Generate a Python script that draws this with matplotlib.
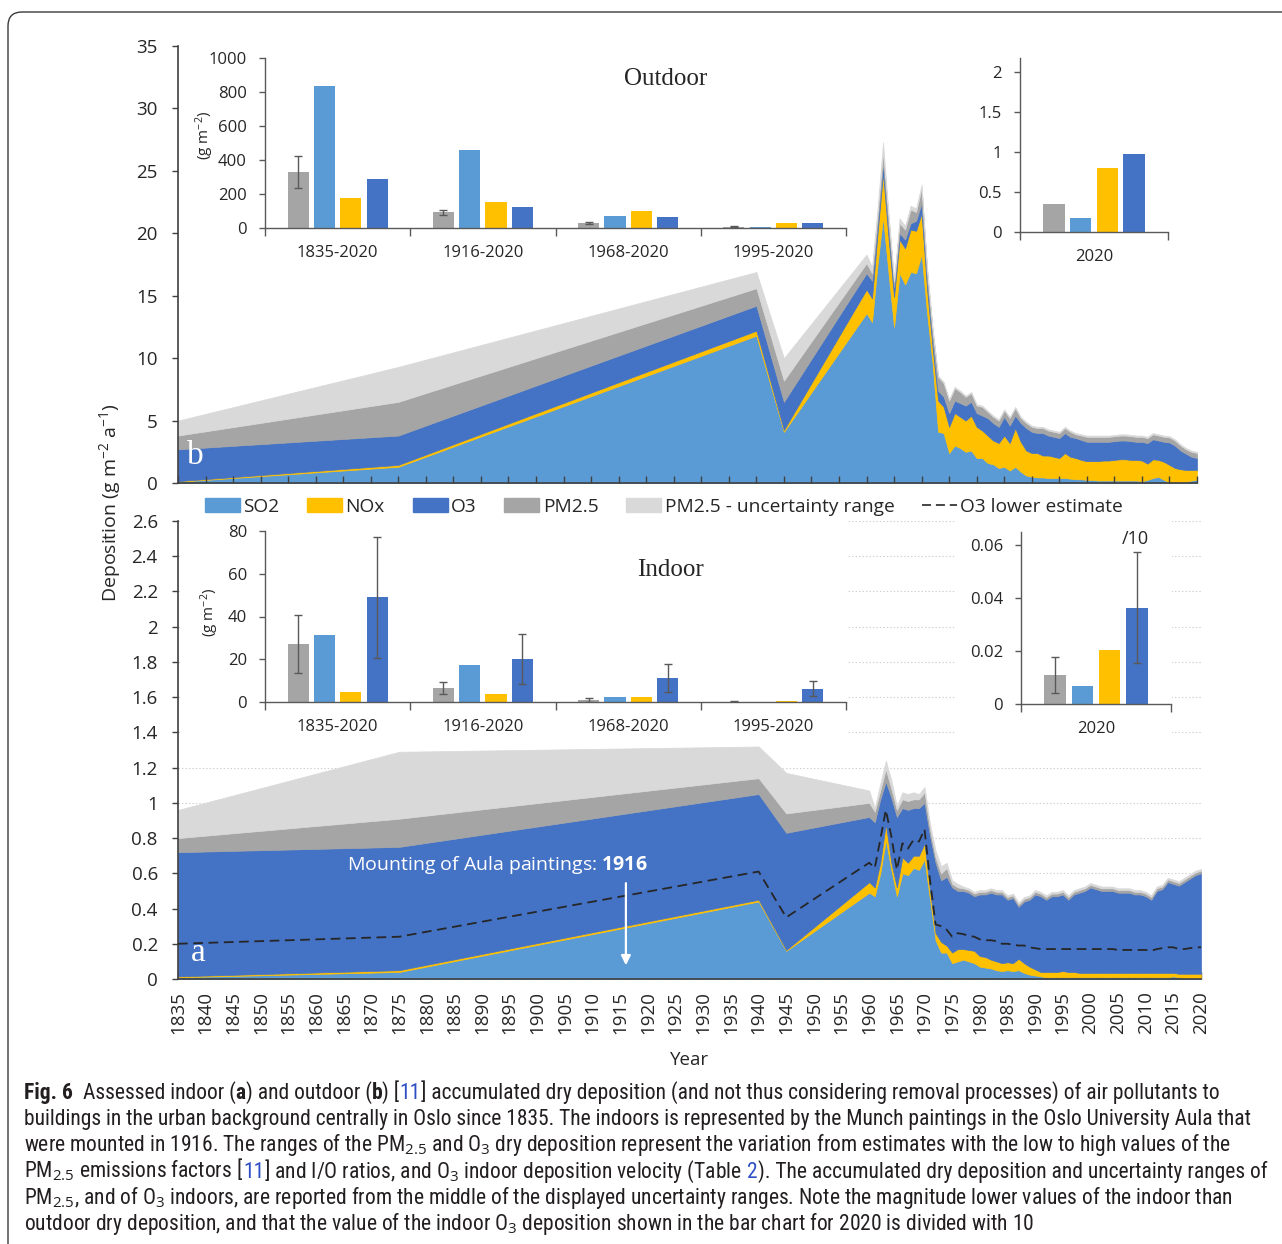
import numpy as np
import matplotlib
matplotlib.use("Agg")
import matplotlib.pyplot as plt
from matplotlib import font_manager
from matplotlib.patches import Patch, Rectangle, FancyBboxPatch
from matplotlib.lines import Line2D
from matplotlib.transforms import IdentityTransform
from matplotlib.ticker import MultipleLocator, FuncFormatter

# ---------------------------------------------------------------- data
years = [1835, 1875, 1940, 1945] + list(range(1960, 2021))

# outdoor accumulated dry deposition per pollutant (g m-2 a-1), stacked
out_so2 = [0.1, 1.3, 11.8, 4.1,
           13.6, 12.9, 17.5, 21.3, 16.8, 12.5, 16.8, 15.9, 16.9, 16.8,
           18.3, 13.6, 9.6, 4.1, 4.0, 2.4, 3.0, 2.8, 2.5, 2.6,
           2.0, 2.0, 1.6, 1.5, 1.2, 1.3, 1.0, 1.3, 0.9, 0.6,
           0.5, 0.45, 0.45, 0.4, 0.4, 0.4, 0.4, 0.35, 0.3, 0.3,
           0.25, 0.25, 0.2, 0.2, 0.2, 0.2, 0.2, 0.2, 0.2, 0.2,
           0.15, 0.25, 0.4, 0.5, 0.25, 0.05, 0.05, 0.1, 0.1, 0.2,
           0.25]
out_nox = [0.05, 0.15, 0.4, 0.15,
           1.9, 1.9, 2.5, 3.5, 2.8, 2.4, 2.7, 2.9, 3.4, 3.4,
           3.3, 1.9, 1.2, 2.5, 2.1, 2.1, 2.6, 2.5, 2.5, 2.8,
           2.5, 2.2, 2.2, 1.9, 2.0, 2.5, 2.2, 3.1, 2.4, 2.0,
           1.9, 1.95, 1.75, 1.8, 1.7, 1.6, 2.0, 1.75, 1.7, 1.55,
           1.5, 1.5, 1.55, 1.6, 1.6, 1.65, 1.7, 1.7, 1.65, 1.65,
           1.65, 1.3, 1.5, 1.35, 1.45, 1.4, 1.15, 1.0, 0.95, 0.85,
           0.8]
out_o3 = [2.55, 2.35, 2.0, 2.25,
          1.3, 1.4, 0.8, 0.8, 0.8, 0.8, 0.5, 0.7, 0.5, 0.8,
          0.8, 0.7, 0.7, 0.8, 0.8, 1.1, 1.0, 1.1, 1.2, 1.1,
          1.1, 1.2, 1.4, 1.4, 1.3, 1.5, 1.4, 1.0, 1.5, 1.8,
          1.7, 1.6, 1.8, 1.6, 1.6, 1.6, 1.6, 1.6, 1.6, 1.6,
          1.55, 1.55, 1.55, 1.5, 1.5, 1.5, 1.5, 1.5, 1.5, 1.45,
          1.5, 1.65, 1.6, 1.55, 1.6, 1.8, 1.8, 1.5, 1.3, 1.05,
          0.95]
out_pm = [1.1, 2.7, 1.4, 1.7,
          0.8, 0.6, 0.7, 0.9, 0.8, 0.4, 0.8, 0.8, 1.1, 0.7,
          1.2, 0.8, 0.7, 1.1, 1.1, 1.0, 1.0, 0.9, 0.7, 0.7,
          0.6, 0.7, 0.5, 0.5, 0.5, 0.5, 0.6, 0.6, 0.4, 0.4,
          0.4, 0.4, 0.4, 0.4, 0.4, 0.4, 0.4, 0.4, 0.3, 0.35,
          0.4, 0.4, 0.4, 0.4, 0.4, 0.4, 0.4, 0.4, 0.4, 0.4,
          0.4, 0.4, 0.4, 0.4, 0.4, 0.4, 0.4, 0.4, 0.35, 0.4,
          0.4]
out_pm_unc = [1.2, 2.8, 1.3, 1.8,
              0.7, 0.5, 0.5, 0.8, 0.4, 0.2, 0.4, 0.3, 0.3, 0.3,
              0.3, 0.3, 0.2, 0.1, 0.1, 0.1, 0.1, 0.1, 0.1, 0.1,
              0.1, 0.1, 0.1, 0.1, 0.1, 0.1, 0.1, 0.1, 0.1, 0.1,
              0.1, 0.1, 0.1, 0.1, 0.1, 0.1, 0.1, 0.1, 0.1, 0.1,
              0.1, 0.1, 0.1, 0.1, 0.1, 0.1, 0.1, 0.1, 0.1, 0.1,
              0.1, 0.1, 0.1, 0.1, 0.1, 0.1, 0.1, 0.1, 0.1, 0.1,
              0.1]

# indoor (Aula) accumulated dry deposition, stacked
in_so2 = [0.01, 0.04, 0.44, 0.16,
          0.49, 0.47, 0.60, 0.79, 0.62, 0.47, 0.60, 0.59, 0.63, 0.62,
          0.68, 0.45, 0.22, 0.15, 0.15, 0.09, 0.10, 0.11, 0.10, 0.09,
          0.07, 0.065, 0.06, 0.05, 0.045, 0.05, 0.045, 0.05, 0.035, 0.025,
          0.02, 0.015, 0.01, 0.01, 0.01, 0.01, 0.01, 0.01, 0.01, 0.01,
          0.01, 0.01, 0.01, 0.01, 0.01, 0.01, 0.01, 0.01, 0.01, 0.01,
          0.01, 0.01, 0.01, 0.01, 0.01, 0.015, 0.01, 0.005, 0.005, 0.005,
          0.005]
in_nox = [0.005, 0.01, 0.01, 0.005,
          0.06, 0.05, 0.06, 0.09, 0.04, 0.05, 0.09, 0.07, 0.07, 0.08,
          0.09, 0.05, 0.04, 0.06, 0.04, 0.06, 0.07, 0.06, 0.065, 0.07,
          0.06, 0.06, 0.05, 0.05, 0.045, 0.045, 0.045, 0.065, 0.055, 0.045,
          0.035, 0.025, 0.03, 0.03, 0.03, 0.035, 0.03, 0.03, 0.025, 0.025,
          0.025, 0.025, 0.025, 0.025, 0.025, 0.025, 0.025, 0.025, 0.025, 0.025,
          0.025, 0.025, 0.025, 0.025, 0.025, 0.02, 0.02, 0.025, 0.025, 0.025,
          0.025]
in_o3 = [0.705, 0.70, 0.60, 0.665,
         0.37, 0.37, 0.36, 0.24, 0.37, 0.40, 0.28, 0.30, 0.27, 0.27,
         0.23, 0.31, 0.40, 0.35, 0.39, 0.37, 0.33, 0.33, 0.325, 0.31,
         0.35, 0.355, 0.38, 0.38, 0.39, 0.355, 0.37, 0.295, 0.35, 0.38,
         0.425, 0.43, 0.41, 0.43, 0.43, 0.435, 0.41, 0.44, 0.455, 0.465,
         0.485, 0.475, 0.465, 0.465, 0.465, 0.455, 0.455, 0.455, 0.445, 0.445,
         0.435, 0.415, 0.465, 0.475, 0.515, 0.505, 0.50, 0.52, 0.54, 0.56,
         0.57]
in_pm = [0.08, 0.16, 0.09, 0.11,
         0.08, 0.06, 0.05, 0.07, 0.05, 0.04, 0.05, 0.05, 0.05, 0.05,
         0.06, 0.04, 0.03, 0.04, 0.05, 0.02, 0.02, 0.015, 0.015, 0.015,
         0.015, 0.015, 0.015, 0.015, 0.015, 0.015, 0.015, 0.015, 0.015, 0.015,
         0.015, 0.015, 0.015, 0.015, 0.015, 0.015, 0.015, 0.015, 0.015, 0.015,
         0.015, 0.015, 0.015, 0.015, 0.015, 0.015, 0.015, 0.015, 0.015, 0.015,
         0.015, 0.015, 0.015, 0.015, 0.015, 0.015, 0.015, 0.015, 0.015, 0.015,
         0.015]
in_pm_unc = [0.16, 0.38, 0.18, 0.23,
             0.07, 0.02, 0.04, 0.05, 0.05, 0.02, 0.04, 0.04, 0.04, 0.03,
             0.03, 0.03, 0.04, 0.04, 0.03, 0.02, 0.02, 0.01, 0.01, 0.01,
             0.01, 0.01, 0.01, 0.01, 0.01, 0.01, 0.01, 0.01, 0.01, 0.01,
             0.01, 0.01, 0.01, 0.01, 0.01, 0.01, 0.01, 0.01, 0.01, 0.01,
             0.01, 0.01, 0.01, 0.01, 0.01, 0.01, 0.01, 0.01, 0.01, 0.01,
             0.01, 0.01, 0.01, 0.01, 0.01, 0.01, 0.01, 0.01, 0.01, 0.01,
             0.01]
# lower O3 estimate, drawn on top of SO2 + NOx
in_o3_low = [0.185, 0.19, 0.16, 0.185,
             0.11, 0.11, 0.13, 0.08, 0.15, 0.10, 0.08, 0.08, 0.09, 0.08,
             0.08, 0.06, 0.05, 0.09, 0.09, 0.09, 0.09, 0.085, 0.08, 0.08,
             0.095, 0.095, 0.11, 0.115, 0.11, 0.105, 0.105, 0.075, 0.10, 0.11,
             0.12, 0.13, 0.13, 0.13, 0.13, 0.125, 0.13, 0.13, 0.135, 0.135,
             0.135, 0.135, 0.135, 0.135, 0.135, 0.13, 0.13, 0.13, 0.13, 0.13,
             0.13, 0.125, 0.135, 0.14, 0.145, 0.145, 0.14, 0.14, 0.145, 0.15,
             0.15]

# accumulated totals for the bar insets (g m-2)
periods = ["1835-2020", "1916-2020", "1968-2020", "1995-2020"]
out_bar_pm = [330, 92, 29, 8]
out_bar_pm_lo = [236, 76, 25, 4]
out_bar_pm_hi = [422, 107, 33, 12]
out_bar_so2 = [836, 459, 70, 4]
out_bar_nox = [174, 150, 98, 31]
out_bar_o3 = [289, 125, 66, 31]

in_bar_pm = [27.0, 6.4, 0.9, 0.1]
in_bar_pm_lo = [13.7, 3.8, 0.1, 0.0]
in_bar_pm_hi = [40.6, 9.3, 1.9, 0.4]
in_bar_so2 = [31.5, 17.1, 2.5, 0.05]
in_bar_nox = [4.5, 3.9, 2.4, 0.5]
in_bar_o3 = [48.9, 20.1, 11.0, 6.0]
in_bar_o3_lo = [20.8, 8.5, 4.9, 2.8]
in_bar_o3_hi = [77.2, 31.8, 17.6, 9.9]

year_2020 = ["2020"]
out_2020_pm = [0.354]
out_2020_so2 = [0.18]
out_2020_nox = [0.80]
out_2020_o3 = [0.967]

in_2020_pm = [0.0108]
in_2020_pm_lo = [0.0043]
in_2020_pm_hi = [0.0178]
in_2020_so2 = [0.0067]
in_2020_nox = [0.0204]
in_2020_o3 = [0.0362]      # divided by 10
in_2020_o3_lo = [0.0154]
in_2020_o3_hi = [0.0574]

# ---------------------------------------------------------------- style
C_SO2, C_NOX, C_O3 = "#5B9BD5", "#FFC000", "#4472C4"
C_PM, C_UNC = "#A5A5A5", "#D9D9D9"
INK = "#262626"
AXC = "#595959"

plt.rcParams["font.family"] = ["Open Sans", "DejaVu Sans"]
plt.rcParams["mathtext.fontset"] = "custom"
plt.rcParams["mathtext.rm"] = "Open Sans"
plt.rcParams["mathtext.it"] = "Open Sans:italic"
plt.rcParams["mathtext.bf"] = "Open Sans:bold"
plt.rcParams["lines.scale_dashes"] = False
for k in ("text.color", "axes.labelcolor", "xtick.color", "ytick.color"):
    plt.rcParams[k] = INK

W, H = 1282, 1244
PIX = IdentityTransform()


def box(left, top, right, bottom):
    return [left / W, 1 - bottom / H, (right - left) / W, (bottom - top) / H]


def stacked(ax, layers, colors):
    base = np.zeros(len(years))
    levels = []
    for vals, c in zip(layers, colors):
        top = base + np.asarray(vals)
        ax.fill_between(years, base, top, facecolor=c, edgecolor=c, linewidth=0.5)
        levels.append(top)
        base = top
    return levels


def num(v, pos=None):
    return "%g" % round(v, 3)


fig = plt.figure(figsize=(W / 100, H / 100), dpi=100)

# ---------------------------------------------------------------- outdoor (b)
ax_out = fig.add_axes(box(178, 46, 1197, 483))
stacked(ax_out, [out_so2, out_nox, out_o3, out_pm, out_pm_unc],
        [C_SO2, C_NOX, C_O3, C_PM, C_UNC])
ax_out.set_xlim(1835, 2020)
ax_out.set_ylim(0, 35)
ax_out.yaxis.set_major_locator(MultipleLocator(5))
ax_out.xaxis.set_major_locator(MultipleLocator(5))
ax_out.tick_params(axis="x", direction="in", length=5, width=1, labelbottom=False, color="#404040")
ax_out.tick_params(axis="y", direction="out", length=4.5, width=1, pad=10, labelsize=13.5, color="#404040")
for s in ("top", "right"):
    ax_out.spines[s].set_visible(False)
for s in ("left", "bottom"):
    ax_out.spines[s].set_color("#404040")
    ax_out.spines[s].set_linewidth(1.2)

# ---------------------------------------------------------------- indoor (a)
ax_in = fig.add_axes(box(178, 521, 1201, 979))
ax_in.set_axisbelow(True)
ax_in.yaxis.grid(True, color="#CFCFCF", linestyle=(0, (1, 1.5)), linewidth=0.8)
lv = stacked(ax_in, [in_so2, in_nox, in_o3, in_pm, in_pm_unc],
             [C_SO2, C_NOX, C_O3, C_PM, C_UNC])
ax_in.plot(years, lv[1] + np.asarray(in_o3_low), color=INK, lw=1.3,
           linestyle=(0, (7, 4)), zorder=4)
ax_in.set_xlim(1835, 2020)
ax_in.set_ylim(0, 2.6)
ax_in.yaxis.set_major_locator(MultipleLocator(0.2))
ax_in.yaxis.set_major_formatter(FuncFormatter(num))
ax_in.xaxis.set_major_locator(MultipleLocator(5))
ax_in.xaxis.set_minor_locator(MultipleLocator(1))
ax_in.xaxis.set_major_formatter(FuncFormatter(lambda v, p: "%d" % v))
ax_in.tick_params(axis="x", which="both", direction="in", length=5, width=1, color="#303030")
ax_in.tick_params(axis="x", which="major", labelrotation=90, pad=9, labelsize=13.5)
ax_in.tick_params(axis="y", direction="out", length=4.5, width=1, pad=10, labelsize=13.5, color="#404040")
for s in ("top", "right"):
    ax_in.spines[s].set_visible(False)
for s in ("left", "bottom"):
    ax_in.spines[s].set_color("#404040")
    ax_in.spines[s].set_linewidth(1.2)

ax_in.annotate("", xy=(1916, 0.062), xytext=(1916, 0.56),
               arrowprops=dict(arrowstyle="-|>", color="white", lw=1.6, mutation_scale=14), zorder=5)
ax_in.text(1920, 0.647, r"Mounting of Aula paintings: $\mathbf{1916}$", color="white",
           ha="right", va="center", fontsize=14, zorder=5)

# white chart areas behind the indoor insets
for l, t, r, b in ((181, 512, 848, 742), (955, 512, 1172, 742)):
    fig.add_artist(Rectangle((l, H - b), r - l, b - t, transform=PIX,
                             facecolor="white", edgecolor="none", zorder=1))

# ---------------------------------------------------------------- bar insets
PITCH, WID = 0.181, 0.145


def bar_inset(rect, cats, pm, so2, nox, o3, ylim, yticks, pm_err=None, o3_err=None):
    ax = fig.add_axes(rect, zorder=3)
    ax.patch.set_alpha(0)
    x = np.arange(len(cats))
    for k, (vals, c) in enumerate(((pm, C_PM), (so2, C_SO2), (nox, C_NOX), (o3, C_O3))):
        ax.bar(x + (k - 1.5) * PITCH, vals, width=WID, color=c, zorder=2)
    for k, vals, err in ((0, pm, pm_err), (3, o3, o3_err)):
        if err is None:
            continue
        lo, hi = err
        v = np.asarray(vals)
        ax.errorbar(x + (k - 1.5) * PITCH, v, yerr=[v - np.asarray(lo), np.asarray(hi) - v],
                    fmt="none", ecolor=AXC, elinewidth=1, capsize=3, capthick=1, zorder=3)
    ax.set_xlim(-0.5, len(cats) - 0.5)
    ax.set_ylim(*ylim)
    ax.set_xticks(np.arange(len(cats) + 1) - 0.5)
    ax.set_xticklabels([])
    ax.set_xticks(x, labels=cats, minor=True)
    ax.tick_params(axis="x", which="major", direction="out", length=6, width=1, color=AXC)
    ax.tick_params(axis="x", which="minor", length=0, pad=12, labelsize=12)
    ax.set_yticks(yticks)
    ax.yaxis.set_major_formatter(FuncFormatter(num))
    ax.tick_params(axis="y", direction="out", length=4, width=1, pad=9, labelsize=12, color=AXC)
    for s in ("top", "right"):
        ax.spines[s].set_visible(False)
    for s in ("left", "bottom"):
        ax.spines[s].set_color(AXC)
        ax.spines[s].set_linewidth(1)
    return ax


bar_inset(box(265, 58, 846, 228), periods, out_bar_pm, out_bar_so2, out_bar_nox, out_bar_o3,
          (0, 1000), [0, 200, 400, 600, 800, 1000],
          pm_err=(out_bar_pm_lo, out_bar_pm_hi))
bar_inset(box(1020, 58, 1168, 232), year_2020, out_2020_pm, out_2020_so2, out_2020_nox, out_2020_o3,
          (0, 2.17), [0, 0.5, 1, 1.5, 2])
bar_inset(box(265, 531, 846, 702), periods, in_bar_pm, in_bar_so2, in_bar_nox, in_bar_o3,
          (0, 80), [0, 20, 40, 60, 80],
          pm_err=(in_bar_pm_lo, in_bar_pm_hi), o3_err=(in_bar_o3_lo, in_bar_o3_hi))
bar_inset(box(1021, 532, 1171, 704), year_2020, in_2020_pm, in_2020_so2, in_2020_nox, in_2020_o3,
          (0, 0.065), [0, 0.02, 0.04, 0.06],
          pm_err=(in_2020_pm_lo, in_2020_pm_hi), o3_err=(in_2020_o3_lo, in_2020_o3_hi))


def ptext(x, y, s, **kw):
    kw.setdefault("ha", "center")
    kw.setdefault("va", "center")
    return fig.text(x, H - y, s, transform=PIX, **kw)


ptext(205, 135, r"(g m$^{-2}$)", rotation=90, fontsize=11)
ptext(210, 612, r"(g m$^{-2}$)", rotation=90, fontsize=11)
ptext(666, 79, "Outdoor", family="Liberation Serif", fontsize=18)
ptext(670, 570, "Indoor", family="Liberation Serif", fontsize=18)
ptext(1135, 539, "/10", fontsize=13)
ptext(195, 456, "b", family="Liberation Serif", fontsize=24, color="white")
ptext(198, 953, "a", family="Liberation Serif", fontsize=24, color="white")
ptext(110, 503, r"Deposition (g m$^{-2}$ a$^{-1}$)", rotation=90, fontsize=14)
ptext(690, 1060, "Year", fontsize=13.5)

# ---------------------------------------------------------------- legend
handles = [Patch(color=C_SO2), Patch(color=C_NOX), Patch(color=C_O3),
           Patch(color=C_PM), Patch(color=C_UNC),
           Line2D([], [], color=INK, lw=1.2, linestyle=(0, (6.5, 3.5)))]
labels = ["SO2", "NOx", "O3", "PM2.5", "PM2.5 - uncertainty range", "O3 lower estimate"]
fig.legend(handles, labels, loc="center left", bbox_to_anchor=(205 / W, 1 - 507 / H),
           ncol=6, frameon=False, borderpad=0, borderaxespad=0, handlelength=1.82,
           handleheight=0.72, handletextpad=0.18, columnspacing=1.45, fontsize=13.8)

# ---------------------------------------------------------------- caption
names = {f.name for f in font_manager.fontManager.ttflist}
cap_font = next((n for n in ("Liberation Sans Narrow", "Roboto Condensed", "Open Sans Condensed")
                 if n in names), "Liberation Sans")
LINK = "#2E4FC4"
renderer = fig.canvas.get_renderer()


def width_of(s, size, weight="normal"):
    t = fig.text(0, 0, s, transform=PIX, family=cap_font, fontsize=size, weight=weight)
    w = t.get_window_extent(renderer).width
    t.remove()
    return w


N, B = {}, {"weight": "bold"}
BL = {"color": LINK}
caption = [
    [("Fig. 6", B, 0), ("Assessed indoor (", N, 2), ("a", B, 0), (") and outdoor (", N, 0),
     ("b", B, 0), (") [", N, 0), ("11", BL, 0),
     ("] accumulated dry deposition (and not thus considering removal processes) of air pollutants to", N, 0)],
    [("buildings in the urban background centrally in Oslo since 1835. The indoors is represented "
      "by the Munch paintings in the Oslo University Aula that", N, 0)],
    [("were mounted in 1916. The ranges of the PM$_{2.5}$ and O$_3$ dry deposition represent the "
      "variation from estimates with the low to high values of the", N, 0)],
    [("PM$_{2.5}$ emissions factors [", N, 0), ("11", BL, 0),
     ("] and I/O ratios, and O$_3$ indoor deposition velocity (Table", N, 0), ("2", BL, 1),
     ("). The accumulated dry deposition and uncertainty ranges of", N, 0)],
    [("PM$_{2.5}$, and of O$_3$ indoors, are reported from the middle of the displayed uncertainty "
      "ranges. Note the magnitude lower values of the indoor than", N, 0)],
    [("outdoor dry deposition, and that the value of the indoor O$_3$ deposition shown in the bar "
      "chart for 2020 is divided with 10", N, 0)],
]

cap_size = 14 * (1262 - 24) / width_of(caption[1][0][0], 14)
space = width_of("x x", cap_size) - width_of("xx", cap_size)
for i, line in enumerate(caption):
    x = 24
    yb = H - (1099 + i * 26.2)
    for s, st, gaps in line:
        x += gaps * space
        t = fig.text(x, yb, s, transform=PIX, family=cap_font, fontsize=cap_size,
                     va="baseline", ha="left", color=st.get("color", "#231F20"),
                     weight=st.get("weight", "normal"))
        x += t.get_window_extent(renderer).width

# rounded frame around figure and caption
fig.add_artist(FancyBboxPatch((0.08, -0.2), 12.94, 12.52,
                              boxstyle="round,pad=0,rounding_size=0.14",
                              transform=fig.dpi_scale_trans, fill=False,
                              edgecolor="#3A3A3A", linewidth=1.0, zorder=5))

fig.savefig("out.png", dpi=100)
